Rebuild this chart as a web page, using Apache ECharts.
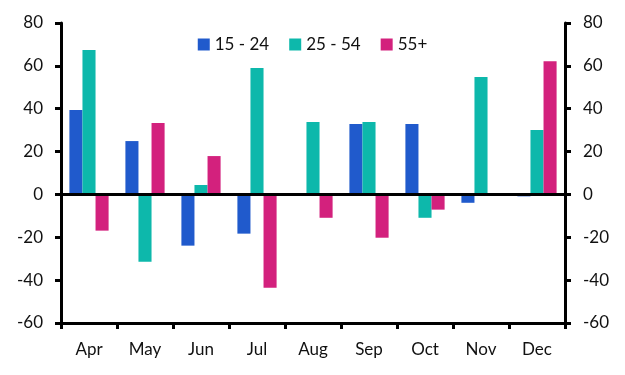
<!DOCTYPE html>
<html>
<head>
<meta charset="utf-8">
<script src="https://cdn.jsdelivr.net/npm/echarts@6/dist/echarts.min.js"></script>
<style>
  html, body { margin: 0; padding: 0; background: #fff; }
  #chart { width: 625px; height: 375px; }
</style>
</head>
<body>
<div id="chart"></div>
<script>
const months = ['Apr', 'May', 'Jun', 'Jul', 'Aug', 'Sep', 'Oct', 'Nov', 'Dec'];
const age15to24 = [39.4, 24.9, -23.9, -18.3, 0, 32.9, 32.9, -3.9, -0.9];
const age25to54 = [67.4, -31.4, 4.4, 59, 33.8, 33.8, -10.9, 54.8, 30.1];
const age55plus = [-16.9, 33.3, 17.9, -43.5, -10.9, -20.2, -7.1, 0, 62.2];

const font = 'Lato, "Open Sans", sans-serif';

const yAxisBase = {
  type: 'value',
  min: -60,
  max: 80,
  interval: 20,
  axisLine: { show: true, lineStyle: { color: '#000', width: 3 } },
  axisTick: { show: true, length: 6, lineStyle: { color: '#000', width: 3 } },
  splitLine: { show: false },
  axisLabel: { color: '#111', fontSize: 17, fontFamily: font, margin: 18 },
};

const chart = echarts.init(document.getElementById('chart'));
chart.setOption({
  animation: false,
  color: ['#205ACC', '#0DB8AB', '#D3217D'],
  legend: {
    top: 31,
    left: 'center',
    itemWidth: 12,
    itemHeight: 12,
    itemGap: 20,
    icon: 'rect',
    textStyle: { color: '#111', fontSize: 17, fontFamily: font },
    data: ['15 - 24', '25 - 54', '55+'],
  },
  grid: { left: 61, right: 60, top: 23, bottom: 52 },
  xAxis: {
    type: 'category',
    data: months,
    position: 'bottom',
    axisLine: { onZero: false, lineStyle: { color: '#000', width: 3 } },
    axisTick: { show: true, length: 6, lineStyle: { color: '#000', width: 3 } },
    axisLabel: { color: '#111', fontSize: 17, fontFamily: font, margin: 18 },
  },
  yAxis: [
    Object.assign({}, yAxisBase, { position: 'left' }),
    Object.assign({}, yAxisBase, { position: 'right' }),
  ],
  series: [
    { name: '15 - 24', type: 'bar', data: age15to24, barGap: '0%', barCategoryGap: '30%',
      markLine: { silent: true, symbol: 'none', label: { show: false },
        lineStyle: { color: '#000', width: 3, type: 'solid' }, data: [{ yAxis: 0 }] } },
    { name: '25 - 54', type: 'bar', data: age25to54, barGap: '0%', barCategoryGap: '30%' },
    { name: '55+', type: 'bar', data: age55plus, barGap: '0%', barCategoryGap: '30%' },
  ],
});
</script>
</body>
</html>
